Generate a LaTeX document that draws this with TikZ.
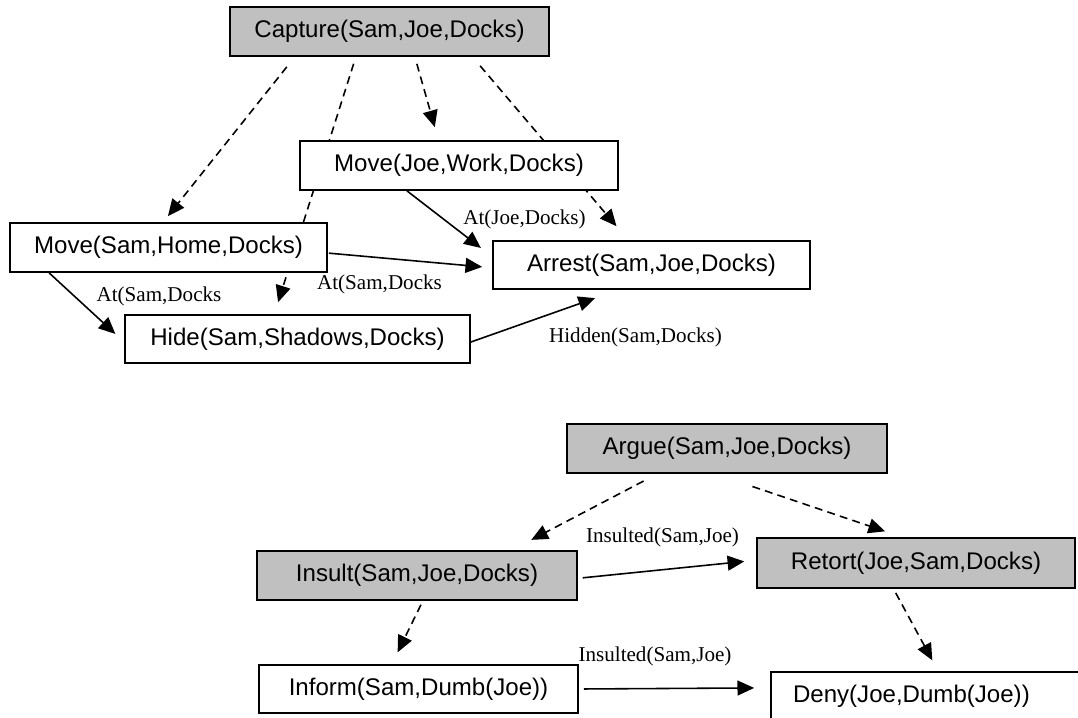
\documentclass[tikz,border=0pt]{standalone}
\usepackage{fontspec}
\setmainfont{Liberation Serif}
\newfontfamily\boxfont{Liberation Sans}
\usetikzlibrary{arrows.meta,backgrounds}
\definecolor{actgray}{HTML}{C0C0C0}
\begin{document}
\begin{tikzpicture}[x=0.02cm, y=-0.02cm,
    act/.style={rectangle, draw, line width=1pt, fill=white, minimum height=0.98cm,
        font=\boxfont\fontsize{13.7}{16}\selectfont},
    lbl/.style={inner sep=0pt, font=\fontsize{12}{14}\selectfont},
    link/.style={line width=0.9pt, -{Triangle[length=9.5pt, width=8.5pt]}},
    sub/.style={link, dash pattern=on 4.5pt off 3pt}]
            \useasboundingbox (0, 0) rectangle (1078, 717);

            \node (capture) at (389.5, 31.5) [act, fill=actgray, minimum width=6.38cm] {Capture(Sam,Joe,Docks)};
            \node (movejoe) at (459, 165.5) [act, minimum width=6.36cm] {Move(Joe,Work,Docks)};
            \node (movesam) at (168.5, 247.5) [act, minimum width=6.34cm] {Move(Sam,Home,Docks)};
            \node (hide) at (297.5, 339) [act, minimum width=6.9cm, minimum height=0.96cm] {Hide(Sam,Shadows,Docks)};
            \node (arrest) at (651.5, 265) [act, minimum width=6.34cm, minimum height=0.96cm] {Arrest(Sam,Joe,Docks)};

            \node (argue) at (727, 448.5) [act, fill=actgray, minimum width=6.4cm] {Argue(Sam,Joe,Docks)};
            \node (insult) at (417, 575.5) [act, fill=actgray, minimum width=6.4cm] {Insult(Sam,Joe,Docks)};
            \node (retort) at (916, 563) [act, fill=actgray, minimum width=6.36cm, minimum height=1cm] {Retort(Joe,Sam,Docks)};
            \node (inform) at (418.5, 689) [act, minimum width=6.38cm, minimum height=0.96cm] {Inform(Sam,Dumb(Joe))};
            \node (deny) at (935.5, 696.5) [act, inner xsep=0.44cm, text width=5.7cm, align=left] {Deny(Joe,Dumb(Joe))};

            \node (atjoe) at (524.5, 219) [lbl] {At(Joe,Docks)};
            \node (atsamr) at (379.5, 284) [lbl] {At(Sam,Docks};
            \node (atsaml) at (159, 296) [lbl] {At(Sam,Docks};
            \node (hidden) at (635.5, 337) [lbl] {Hidden(Sam,Docks)};
            \node (insup) at (662.5, 537) [lbl] {Insulted(Sam,Joe)};
            \node (inslow) at (655, 656) [lbl] {Insulted(Sam,Joe)};

            \begin{pgfonlayer}{background}
            \draw[sub, shorten <=7.3pt, shorten >=4.4pt] (capture.195) -- (movesam.102.7);
            \draw[sub, shorten <=4.1pt, shorten >=7.1pt] (capture.217) -- (hide.133.2);
            \draw[sub, shorten <=4.1pt, shorten >=7.7pt] (capture.315) -- (movejoe.129.5);
            \draw[sub, shorten <=6.7pt, shorten >=10.4pt] (capture.343.3) -- (arrest.133.3);
            \draw[link, shorten >=8.1pt] (movejoe.206.8) -- (arrest.177.9);
            \draw[link, shorten <=0.6pt, shorten >=5.7pt] (movesam.358.8) -- (arrest.181.9);
            \draw[link, shorten >=6.8pt] (movesam.192.8) -- (hide.181.7);
            \draw[link, shorten >=14.1pt] (hide.359.7) -- (arrest.217.8);

            \draw[sub, shorten <=8.8pt, shorten >=12.6pt] (argue.200.9) -- (insult.15);
            \draw[sub, shorten <=22.4pt, shorten >=10.3pt] (argue.245.2) -- (retort.118.9);
            \draw[link, shorten <=2.8pt, shorten >=6.8pt] (insult.359.7) -- (retort.179.6);
            \draw[sub, shorten <=2.5pt, shorten >=7.5pt] (insult.283.5) -- (inform.137.4);
            \draw[link, shorten <=2.8pt, shorten >=9.1pt] (inform.0) -- (deny.177.4);
            \draw[sub, shorten <=2.6pt, shorten >=7pt] (retort.229.8) -- (deny.84.9);
            \end{pgfonlayer}

        \end{tikzpicture}
\end{document}
